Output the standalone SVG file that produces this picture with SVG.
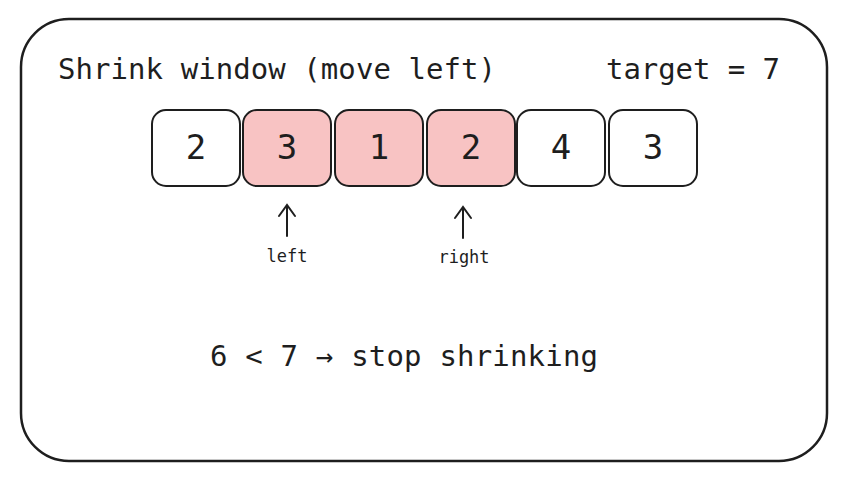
<svg xmlns="http://www.w3.org/2000/svg" width="844" height="480" viewBox="0 0 844 480">
<style>
.cell{fill:#fff;stroke:#1e1e1e;stroke-width:2}
.hl{fill:#f8c3c3;stroke:#1e1e1e;stroke-width:2}
.num{font-family:"DejaVu Sans Mono",monospace;font-size:34px;fill:#1e1e1e;text-anchor:middle}
.t{font-family:"DejaVu Sans Mono",monospace;fill:#1e1e1e}
.c{stroke:#1e1e1e;stroke-width:2;fill:none;stroke-linecap:round}
</style>
<rect x="0" y="0" width="844" height="480" fill="#fff"/>
<g id="frame"><rect x="21" y="19" width="806" height="442" rx="48" fill="none" stroke="#1e1e1e" stroke-width="2.5"/></g>
<g id="title"><text class="t" x="58" y="79" font-size="29" textLength="438">Shrink window (move left)</text>
<text class="t" x="606" y="79" font-size="29" textLength="174">target = 7</text></g>
<g id="c0"><rect class="cell" x="152" y="110" width="88" height="76" rx="14"/><text class="num" x="196" y="159">2</text></g>
<g id="c1"><rect class="hl" x="243" y="110" width="88" height="76" rx="14"/><text class="num" x="287" y="159">3</text></g>
<g id="c2"><rect class="hl" x="335" y="110" width="88" height="76" rx="14"/><text class="num" x="379" y="159">1</text></g>
<g id="c3"><rect class="hl" x="427" y="110" width="88" height="76" rx="14"/><text class="num" x="471" y="159">2</text></g>
<g id="c4"><rect class="cell" x="517" y="110" width="88" height="76" rx="14"/><text class="num" x="561" y="159">4</text></g>
<g id="c5"><rect class="cell" x="609" y="110" width="88" height="76" rx="14"/><text class="num" x="653" y="159">3</text></g>
<g id="connectors">
<path class="c" d="M287 236 L287 205 M279 216 L287 205 L295 216"/>
<path class="c" d="M463 238 L463 207 M455 218 L463 207 L471 218"/>
</g>
<g id="labels"><text class="t" x="287" y="262" font-size="17" text-anchor="middle">left</text>
<text class="t" x="464" y="263" font-size="17" text-anchor="middle">right</text></g>
<g id="status"><text class="t" x="210" y="366" font-size="29" textLength="388">6 &lt; 7 → stop shrinking</text></g>
</svg>
